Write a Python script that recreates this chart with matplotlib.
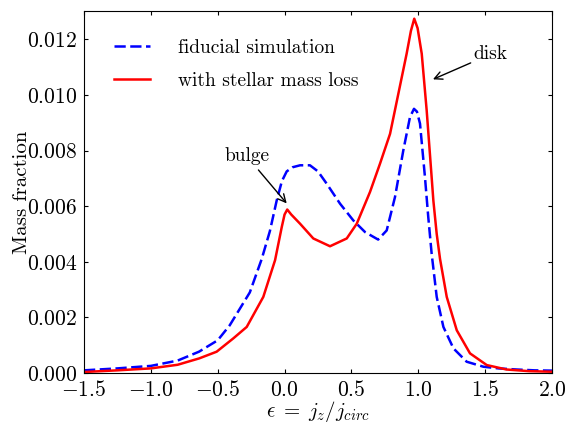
import matplotlib
matplotlib.use('Agg')
import matplotlib.pyplot as plt

plt.rcParams['font.family'] = 'cmr10'
plt.rcParams['mathtext.fontset'] = 'cm'
plt.rcParams['axes.formatter.use_mathtext'] = True
plt.rcParams['font.size'] = 14

# fiducial simulation (blue dashed)
fid_x = [-1.5, -1.25, -1.0, -0.8, -0.64, -0.5, -0.41, -0.26, -0.171, -0.11, -0.059,
         -0.02, 0.016, 0.06, 0.116, 0.19, 0.25, 0.315, 0.415, 0.514, 0.602, 0.70,
         0.764, 0.826, 0.888, 0.938, 0.968, 0.99, 1.013, 1.05, 1.075, 1.1, 1.138,
         1.188, 1.263, 1.362, 1.487, 1.6, 1.736, 1.87, 2.0]
fid_y = [0.0001, 0.00017, 0.00026, 0.00045, 0.00077, 0.00118, 0.00172, 0.0029, 0.0041,
         0.0051, 0.0062, 0.0069, 0.00725, 0.0074, 0.00747, 0.00747, 0.00725, 0.00681,
         0.00609, 0.00549, 0.00507, 0.0048, 0.00513, 0.00633, 0.0080, 0.0092, 0.0095,
         0.0094, 0.00897, 0.00705, 0.0056, 0.0043, 0.00274, 0.00166, 0.00089, 0.00041,
         0.00023, 0.00017, 0.00013, 0.0001, 0.00009]

# with stellar mass loss (red solid)
sml_x = [-1.5, -1.25, -1.0, -0.8, -0.638, -0.508, -0.383, -0.283, -0.159, -0.071,
         -0.021, 0.0, 0.02, 0.05, 0.116, 0.215, 0.34, 0.465, 0.54, 0.639, 0.714,
         0.789, 0.851, 0.913, 0.945, 0.97, 0.995, 1.026, 1.063, 1.1, 1.113, 1.138,
         1.163, 1.213, 1.288, 1.387, 1.512, 1.66, 1.83, 2.0]
sml_y = [0.00004, 0.0001, 0.00017, 0.0003, 0.00053, 0.00077, 0.00125, 0.00166, 0.00274,
         0.00406, 0.00525, 0.0057, 0.00588, 0.0057, 0.00537, 0.00484, 0.00456, 0.00484,
         0.00537, 0.00651, 0.00753, 0.0086, 0.01004, 0.01148, 0.0123, 0.01274, 0.0124,
         0.01148, 0.00944, 0.00705, 0.0062, 0.0050, 0.0041, 0.00274, 0.00154, 0.00071,
         0.00029, 0.00013, 0.00007, 0.00005]

fig = plt.figure(figsize=(5.77, 4.24), dpi=100)
ax = fig.add_axes([0.1456, 0.12, 0.811, 0.853])

ax.plot(fid_x, fid_y, color='blue', lw=1.8, ls='--', dashes=(4.5, 1.8),
        label='fiducial simulation')
ax.plot(sml_x, sml_y, color='red', lw=1.8, label='with stellar mass loss')

ax.set_xlim(-1.5, 2.0)
ax.set_ylim(0, 0.013)
ax.set_xticks([-1.5, -1.0, -0.5, 0.0, 0.5, 1.0, 1.5, 2.0])
ax.set_yticks([0.0, 0.002, 0.004, 0.006, 0.008, 0.010, 0.012])
ax.tick_params(direction='in', top=True, right=True, length=3, labelsize=15.5, pad=5)

ax.set_xlabel(r'$\epsilon\;=\;j_z/j_{circ}$', fontsize=15, labelpad=-1)
ax.set_ylabel('Mass fraction', fontsize=15, labelpad=-3)

ax.legend(loc='upper left', bbox_to_anchor=(0.047, 0.945), frameon=False,
          fontsize=14, handlelength=1.85, borderaxespad=0, labelspacing=0.75,
          handletextpad=1.45)

ax.annotate('bulge', xy=(0.016, 0.0061), xytext=(-0.283, 0.0078),
            ha='center', va='center', fontsize=14,
            arrowprops=dict(arrowstyle='->', color='black', lw=1, shrinkA=2, shrinkB=0))
ax.annotate('disk', xy=(1.11, 0.01056), xytext=(1.54, 0.01146),
            ha='center', va='center', fontsize=14,
            arrowprops=dict(arrowstyle='->', color='black', lw=1, shrinkA=0, shrinkB=0))

fig.savefig('out.png', dpi=100)
